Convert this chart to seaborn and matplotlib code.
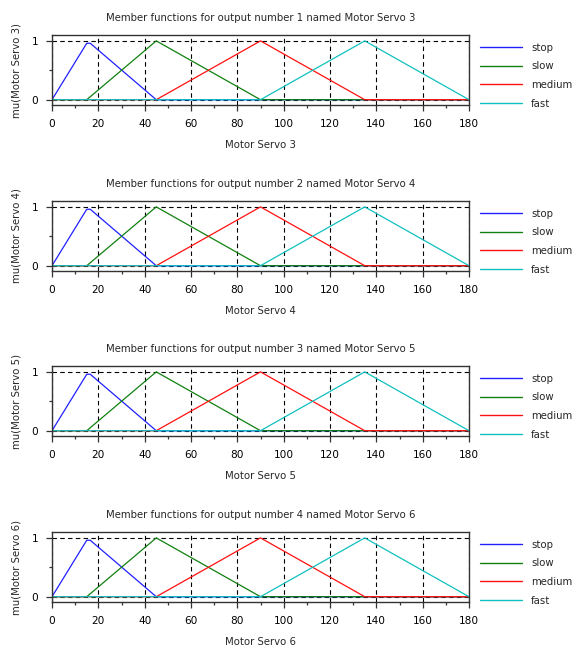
import numpy as np
import pandas as pd
import matplotlib
matplotlib.use("Agg")
import matplotlib.pyplot as plt
import seaborn as sns
from matplotlib.ticker import MultipleLocator

# member function break points
stop_x = [0, 15, 16.5, 45, 180]
stop_mu = [0, 0.96, 0.96, 0, 0]
slow_x = [0, 15, 45, 90, 180]
slow_mu = [0, 0, 1, 0, 0]
medium_x = [0, 45, 90, 135, 180]
medium_mu = [0, 0, 1, 0, 0]
fast_x = [0, 90, 135, 180]
fast_mu = [0, 0, 1, 0]

mf_names = ["stop", "slow", "medium", "fast"]
mf_colors = ["#2020ff", "#108010", "#ff1010", "#10c0c0"]
servos = ["Motor Servo 3", "Motor Servo 4", "Motor Servo 5", "Motor Servo 6"]

frames = []
for name, xs, ys in zip(mf_names, [stop_x, slow_x, medium_x, fast_x],
                        [stop_mu, slow_mu, medium_mu, fast_mu]):
    frames.append(pd.DataFrame({"x": xs, "mu": ys, "mf": name}))
df = pd.concat(frames, ignore_index=True)

sns.set_style("ticks")
plt.rcParams["font.family"] = ["DejaVu Sans"]
FS = 7.3

fig = plt.figure(figsize=(5.74, 6.52), dpi=100)
W, H = 574, 652
tops = [35, 201, 366, 532]
left, right = 52, 469
ax_h = 70

for i, (servo, top) in enumerate(zip(servos, tops)):
    ax = fig.add_axes([left / W, 1 - (top + ax_h) / H, (right - left) / W, ax_h / H])
    sns.lineplot(data=df, x="x", y="mu", hue="mf", hue_order=mf_names,
                 palette=mf_colors, sort=False, estimator=None, units="mf",
                 lw=0.9, ax=ax)
    ax.set_xlim(0, 180)
    ax.set_ylim(-0.09, 1.1)
    ax.set_xticks(range(0, 181, 20))
    ax.xaxis.set_minor_locator(MultipleLocator(10))
    ax.set_yticks([0, 1])
    ax.yaxis.set_minor_locator(MultipleLocator(0.5))
    ax.grid(True, which="major", color="black", ls=(0, (4, 3)), lw=0.8)
    for s in ax.spines.values():
        s.set_color("#333333")
        s.set_linewidth(1.0)
    ax.tick_params(which="major", length=4, width=0.9, labelsize=7.6, colors="#333333",
                   labelcolor="black", pad=6)
    ax.tick_params(which="minor", length=2, width=0.9, colors="#333333")
    ax.set_title(f"Member functions for output number {i + 1} named {servo}",
                 fontsize=FS, pad=10)
    ax.set_xlabel(servo, fontsize=FS, labelpad=8)
    ax.set_ylabel(f"mu({servo})", fontsize=FS, labelpad=7)
    leg = ax.legend(loc="upper left", bbox_to_anchor=(1.027, 0.89), frameon=False,
                    fontsize=FS, handlelength=4.1, handletextpad=0.9,
                    labelspacing=0.85, borderpad=0, borderaxespad=0)
    for line in leg.get_lines():
        line.set_linewidth(1.0)

fig.savefig("out.png", dpi=100)
